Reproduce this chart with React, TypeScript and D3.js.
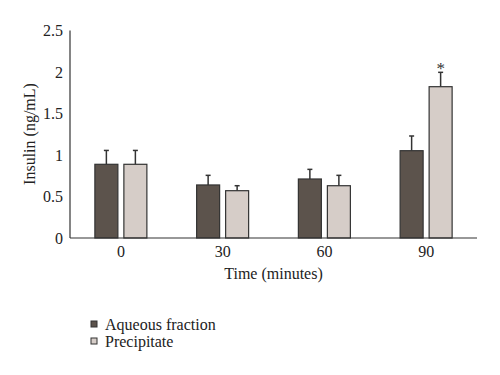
import React from "react";
import * as d3 from "d3";

const categories = ["0", "30", "60", "90"];
const seriesNames = ["Aqueous fraction", "Precipitate"];
const aqueous = [0.888, 0.639, 0.711, 1.052];
const aqueousErr = [0.167, 0.116, 0.116, 0.177];
const precipitate = [0.888, 0.57, 0.63, 1.823];
const precipitateErr = [0.167, 0.06, 0.125, 0.173];
const significant = [false, false, false, true];
const yTicks = [0, 0.5, 1, 1.5, 2, 2.5];
const yTickLabels = ["0", "0.5", "1", "1.5", "2", "2.5"];

const colors = ["#5c534c", "#d6cdc8"];
const font = "'Liberation Serif', 'DejaVu Serif', serif";
const fs = 16;

export default function App() {
  const W = 500, H = 375;
  const left = 70, right = 477, top = 30.5, bottom = 238;
  const x = d3.scaleBand<string>().domain(categories).range([left, right]);
  const y = d3.scaleLinear().domain([0, 2.5]).range([bottom, top]);
  const barW = 23, gap = 6;
  const series = [
    { vals: aqueous, errs: aqueousErr },
    { vals: precipitate, errs: precipitateErr },
  ];
  return (
    <svg width={W} height={H} style={{ position: "absolute", left: 0, top: 0, background: "#fff" }}>
      {categories.map((c, i) => {
        const cx = x(c)! + x.bandwidth() / 2;
        return (
          <g key={c}>
            {series.map((s, j) => {
              const bx = j === 0 ? cx - gap / 2 - barW : cx + gap / 2;
              const v = s.vals[i];
              const e = s.errs[i];
              const mid = bx + barW / 2;
              return (
                <g key={j}>
                  <line x1={mid} x2={mid} y1={y(v)} y2={y(v + e)} stroke="#333" strokeWidth={1.5} />
                  <line x1={mid - 2.5} x2={mid + 2.5} y1={y(v + e)} y2={y(v + e)} stroke="#333" strokeWidth={1.5} />
                  <rect x={bx} y={y(v)} width={barW} height={bottom - y(v)} fill={colors[j]} stroke="#333" strokeWidth={1.2} />
                  {j === 1 && significant[i] && (
                    <text x={mid} y={y(v + e) + 2} textAnchor="middle" fontFamily={font} fontSize={17} fill="#333">*</text>
                  )}
                </g>
              );
            })}
            <text x={cx} y={256.5} textAnchor="middle" fontFamily={font} fontSize={fs} fill="#222">{c}</text>
          </g>
        );
      })}
      <line x1={left} x2={left} y1={top} y2={bottom} stroke="#333" strokeWidth={1.2} />
      <line x1={left} x2={right} y1={bottom} y2={bottom} stroke="#333" strokeWidth={1.2} />
      {yTicks.map((t, i) => (
        <text key={t} x={63} y={y(t) + 5.5} textAnchor="end" fontFamily={font} fontSize={fs} fill="#222">{yTickLabels[i]}</text>
      ))}
      <text transform={`translate(35,134) rotate(-90)`} textAnchor="middle" fontFamily={font} fontSize={fs} fill="#222">Insulin (ng/mL)</text>
      <text x={(left + right) / 2} y={278.5} textAnchor="middle" fontFamily={font} fontSize={fs} fill="#222">Time (minutes)</text>
      {seriesNames.map((n, j) => (
        <g key={n}>
          <rect x={91} y={321 + j * 17} width={6} height={6} fill={colors[j]} stroke="#333" strokeWidth={1} />
          <text x={105} y={329.5 + j * 17} fontFamily={font} fontSize={fs} fill="#222">{n}</text>
        </g>
      ))}
    </svg>
  );
}
